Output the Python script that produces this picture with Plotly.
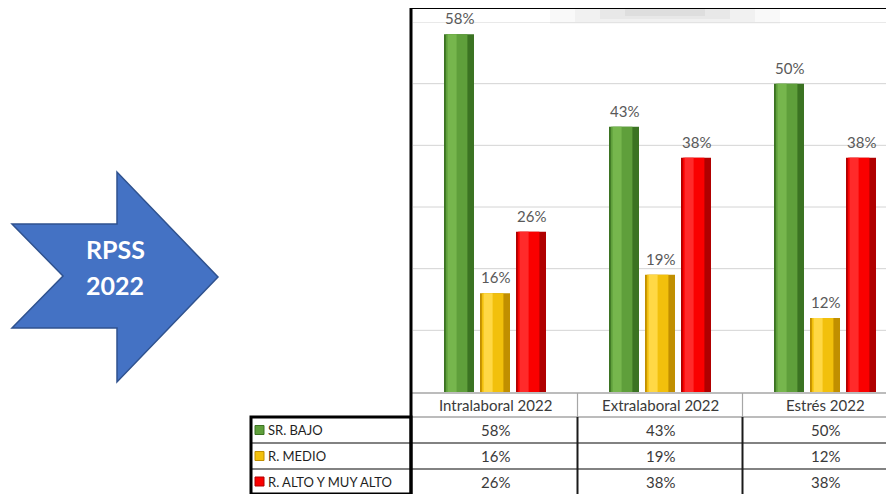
import plotly.graph_objects as go

# ---- data ----
categories = ["Intralaboral 2022", "Extralaboral 2022", "Estrés 2022"]
series_names = ["SR. BAJO", "R. MEDIO", "R. ALTO Y MUY ALTO"]
bajo = [58, 43, 50]
medio = [16, 19, 12]
alto = [26, 38, 38]
values = [bajo, medio, alto]
arrow_text = ["RPSS", "2022"]

# page body has an 8px margin: figure is shifted by it, so work in reference pixels
OFF = 8
W, H = 894 - OFF, 494 - OFF
def px(x): return (x - OFF) / W
def py(y): return 1 - (y - OFF) / H

FONT = "Lato"
main_cols = ["#5f9f3b", "#f2c00c", "#fa0000"]
dark_cols = ["#3b7322", "#c18f00", "#b00000"]
light_cols = ["#76b64d", "#ffd845", "#ff2a2a"]

cat_px = 165.0
bar_w = 30 / cat_px
slot = 36 / cat_px
xs = list(range(len(categories)))

fig = go.Figure()
for i, (name, vals) in enumerate(zip(series_names, values)):
    center = (i - 1) * slot
    fig.add_trace(go.Bar(x=xs, y=vals, name=name, width=bar_w, offset=center - bar_w / 2,
                         marker=dict(color=dark_cols[i], line=dict(width=0)),
                         showlegend=False, hoverinfo="skip"))
    fig.add_trace(go.Bar(x=xs, y=vals, name=name, width=bar_w * 0.72, offset=center - bar_w / 2 + bar_w * 0.06,
                         marker=dict(color=main_cols[i], line=dict(width=0)),
                         showlegend=False, hoverinfo="skip"))
    fig.add_trace(go.Bar(x=xs, y=vals, name=name, width=bar_w * 0.3, offset=center - bar_w / 2 + bar_w * 0.12,
                         marker=dict(color=light_cols[i], line=dict(width=0)),
                         showlegend=False, hoverinfo="skip"))

annotations = []
shapes = []

# bar value labels
for i, vals in enumerate(values):
    for j, v in enumerate(vals):
        annotations.append(dict(x=j, y=v, xref="x", yref="y", text=f"{v}%",
                                xshift=(i - 1) * 36, yshift=5, yanchor="bottom", xanchor="center",
                                showarrow=False, font=dict(family=FONT, size=15, color="#595959")))

# gridlines
for g in range(10, 61, 10):
    shapes.append(dict(type="line", xref="paper", yref="y", x0=px(413), x1=1, y0=g, y1=g,
                       line=dict(color="#d4d4d4", width=1), layer="below"))

# soft top shadow
for (x0, x1, y0, y1, a) in [(550, 780, 8, 24, 0.025), (575, 755, 8, 22, 0.03), (600, 730, 8, 19, 0.035),
                            (625, 705, 8, 16, 0.04)]:
    shapes.append(dict(type="rect", xref="paper", yref="paper", x0=px(x0), x1=px(x1), y0=py(y1), y1=py(y0),
                       fillcolor=f"rgba(0,0,0,{a})", line=dict(width=0), layer="below"))

# table geometry
row_tops = [393, 417, 443, 469, 494]
grey = "#a6a6a6"
for y in row_tops[:2]:
    shapes.append(dict(type="line", xref="paper", yref="paper", x0=px(412), x1=1, y0=py(y), y1=py(y),
                       line=dict(color=grey, width=1.5)))
for y in row_tops[2:4]:
    shapes.append(dict(type="line", xref="paper", yref="paper", x0=px(250), x1=1, y0=py(y), y1=py(y),
                       line=dict(color="#595959", width=1.5)))
for b in [0.5, 1.5]:
    shapes.append(dict(type="line", xref="x", yref="paper", x0=b, x1=b, y0=py(417), y1=py(393),
                       line=dict(color=grey, width=1.2)))
    shapes.append(dict(type="line", xref="x", yref="paper", x0=b, x1=b, y0=py(494), y1=py(417),
                       line=dict(color="#1a1a1a", width=2)))
shapes.append(dict(type="rect", xref="paper", yref="paper", x0=px(251), x1=px(411), y0=py(494), y1=py(417),
                   line=dict(color="black", width=3), fillcolor="rgba(0,0,0,0)"))
shapes.append(dict(type="line", xref="paper", yref="paper", x0=px(410), x1=1, y0=py(7.5), y1=py(7.5),
                   line=dict(color="black", width=3)))
shapes.append(dict(type="line", xref="paper", yref="paper", x0=px(411), x1=px(411), y0=py(494), y1=py(6),
                   line=dict(color="black", width=3)))

# header text
for j, c in enumerate(categories):
    annotations.append(dict(x=j, y=py(405), xref="x", yref="paper", text=c, showarrow=False,
                            xanchor="center", yanchor="middle",
                            font=dict(family=FONT, size=15, color="#3a3a3a")))
# table values and legend labels
for i, (name, vals) in enumerate(zip(series_names, values)):
    yc = (row_tops[i + 1] + row_tops[i + 2]) / 2
    for j, v in enumerate(vals):
        annotations.append(dict(x=j, y=py(yc), xref="x", yref="paper", text=f"{v}%", showarrow=False,
                                xanchor="center", yanchor="middle",
                                font=dict(family=FONT, size=15, color="#3a3a3a")))
    shapes.append(dict(type="rect", xref="paper", yref="paper", x0=px(255), x1=px(264),
                       y0=py(yc + 4.5), y1=py(yc - 4.5), fillcolor=main_cols[i],
                       line=dict(color=dark_cols[i], width=1)))
    annotations.append(dict(x=px(266), y=py(yc), xref="paper", yref="paper", text=name, showarrow=False,
                            xanchor="left", yanchor="middle",
                            font=dict(family=FONT, size=13, color="#1f1f1f")))

# arrow
pts = [(12, 224), (117, 224), (117, 172), (218, 277), (117, 382), (117, 328), (12, 328), (63, 276)]
path = "M " + " L ".join(f"{px(x)},{py(y)}" for x, y in pts) + " Z"
shapes.append(dict(type="path", xref="paper", yref="paper", path=path,
                   fillcolor="#4472c4", line=dict(color="#2f528f", width=1.5)))
for t, yc in zip(arrow_text, [249, 285]):
    annotations.append(dict(x=px(115), y=py(yc), xref="paper", yref="paper", text=f"<b>{t}</b>",
                            showarrow=False, xanchor="center", yanchor="middle",
                            font=dict(family=FONT, size=25, color="white")))

fig.update_layout(
    width=W, height=H, margin=dict(l=0, r=0, t=0, b=0),
    paper_bgcolor="white", plot_bgcolor="rgba(0,0,0,0)",
    barmode="overlay", showlegend=False,
    xaxis=dict(domain=[px(412.5), 1], range=[-0.5, -0.5 + (894 - 412.5) / cat_px],
               showticklabels=False, showgrid=False, zeroline=False, ticks=""),
    yaxis=dict(domain=[py(392), py(22)], range=[0, 60], showticklabels=False,
               showgrid=False, zeroline=False, ticks=""),
    shapes=shapes, annotations=annotations,
)
fig.write_html("out.html")
